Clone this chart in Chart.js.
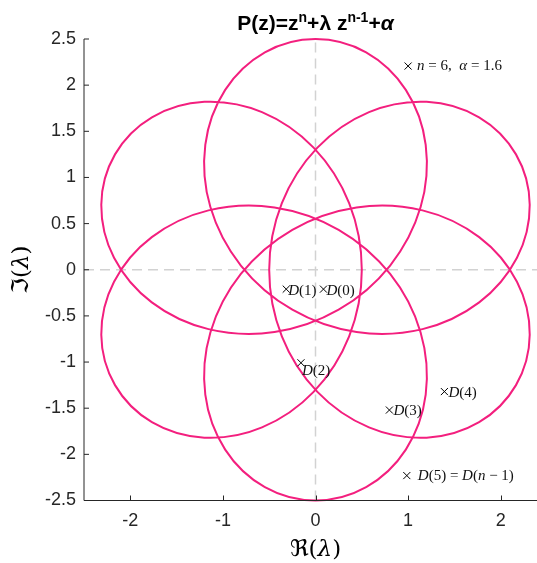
<!DOCTYPE html>
<html>
<head>
<meta charset="utf-8">
<script src="https://cdn.jsdelivr.net/npm/chart.js@4.4.1/dist/chart.umd.min.js"></script>
<style>
  html, body { margin: 0; padding: 0; background: #fff; overflow: hidden; }
  canvas { display: block; }
</style>
</head>
<body>
<canvas id="locus" width="560" height="563"></canvas>
<script>
// ── boundary curve in the λ-plane, traced as one closed path (Re, Im) ──
const curveRe = [
  -0.8061, -1.1352, -1.1901, -0.9754, -0.5468, 0, 0.5468, 0.9754, 1.1901, 1.1352, 0.8061, 0.25,
  -0.4428, -1.1558, -1.7678, -2.1756, -2.3134, -2.1651, -1.7667, -1.2002, -0.5777, -0.0206, 0.3633, 0.5,
  0.3633, -0.0206, -0.5777, -1.2002, -1.7667, -2.1651, -2.3134, -2.1756, -1.7678, -1.1558, -0.4428, 0.25,
  0.8061, 1.1352, 1.1901, 0.9754, 0.5468, 0, -0.5468, -0.9754, -1.1901, -1.1352, -0.8061, -0.25,
  0.4428, 1.1558, 1.7678, 2.1756, 2.3134, 2.1651, 1.7667, 1.2002, 0.5777, 0.0206, -0.3633, -0.5,
  -0.3633, 0.0206, 0.5777, 1.2002, 1.7667, 2.1651, 2.3134, 2.1756, 1.7678, 1.1558, 0.4428, -0.25,
];
const curveIm = [
  0.046, 0.6792, 1.3542, 1.949, 2.3557, 2.5, 2.3557, 1.949, 1.3542, 0.6792, 0.046, -0.433,
  -0.6751, -0.6435, -0.3536, 0.1298, 0.7043, 1.25, 1.6513, 1.8192, 1.7077, 1.3227, 0.7211, 0,
  -0.7211, -1.3227, -1.7077, -1.8192, -1.6513, -1.25, -0.7043, -0.1298, 0.3536, 0.6435, 0.6751, 0.433,
  -0.046, -0.6792, -1.3542, -1.949, -2.3557, -2.5, -2.3557, -1.949, -1.3542, -0.6792, -0.046, 0.433,
  0.6751, 0.6435, 0.3536, -0.1298, -0.7043, -1.25, -1.6513, -1.8192, -1.7077, -1.3227, -0.7211, 0,
  0.7211, 1.3227, 1.7077, 1.8192, 1.6513, 1.25, 0.7043, 0.1298, -0.3536, -0.6435, -0.6751, -0.433,
];

// ── marked points and their labels ──
const markRe = [1.0, 0.086, -0.316, -0.157, 0.798, 1.392, 0.986];
const markIm = [2.207, -0.21, -0.21, -1.008, -1.52, -1.32, -2.23];
const markText = ['n = 6,  α = 1.6', 'D(0)', 'D(1)', 'D(2)', 'D(3)', 'D(4)', 'D(5) = D(n − 1)'];

const xTicks = [-2, -1, 0, 1, 2];
const yTicks = [-2.5, -2, -1.5, -1, -0.5, 0, 0.5, 1, 1.5, 2, 2.5];

// label nudges in px (dx, dy) relative to the marker
const labelNudge = [[9, 0], [3, 2], [2, 2], [1, 8], [4, 1], [4, 1], [11, 0]];

const CURVE = '#f31f7e';
const INK = '#262626';
const SANS = "'Liberation Sans', Arial, sans-serif";
const SERIF = "'Liberation Serif', 'DejaVu Serif', serif";
const MATH = "'DejaVu Serif', 'DejaVu Sans', serif";

// closed path: pad with neighbours on both ends so the spline tangents wrap,
// then hide the two padding segments
const n = curveRe.length;
const loopIdx = [n - 1, ...curveRe.map((_, i) => i), 0, 1];
const curvePts = loopIdx.map(i => ({ x: curveRe[i], y: curveIm[i] }));

function runsOf(str) {
  // letters in math italic, digits and symbols upright
  const out = [];
  for (const ch of str) {
    const it = /[A-Za-zα]/.test(ch);
    const last = out[out.length - 1];
    if (last && last.it === it) last.t += ch; else out.push({ t: ch, it });
  }
  return out;
}

function drawRuns(ctx, runs, x, y) {
  // runs: {t, font, dy}; draws left to right from x on baseline y
  runs.forEach(r => {
    ctx.font = r.font;
    ctx.fillText(r.t, x, y + (r.dy || 0));
    x += ctx.measureText(r.t).width;
  });
  return x;
}

function runsWidth(ctx, runs) {
  return runs.reduce((w, r) => { ctx.font = r.font; return w + ctx.measureText(r.t).width; }, 0);
}

const decorations = {
  id: 'decorations',
  afterDatasetsDraw(chart) {
    const { ctx, chartArea: a, scales: { x, y } } = chart;
    ctx.save();

    // axes with inward ticks
    ctx.strokeStyle = INK;
    ctx.lineWidth = 1;
    ctx.beginPath();
    ctx.moveTo(a.left, a.top);
    ctx.lineTo(a.left, a.bottom);
    yTicks.forEach(v => {
      const py = y.getPixelForValue(v);
      ctx.moveTo(a.left, py);
      ctx.lineTo(a.left + 5, py);
    });
    ctx.moveTo(a.left, a.bottom);
    ctx.lineTo(a.right, a.bottom);
    xTicks.forEach(v => {
      const px = Math.round(x.getPixelForValue(v)) + 0.5;
      ctx.moveTo(px, a.bottom);
      ctx.lineTo(px, a.bottom - 5);
    });
    ctx.stroke();

    // point labels
    ctx.fillStyle = '#111';
    ctx.textBaseline = 'middle';
    ctx.textAlign = 'left';
    markText.forEach((s, i) => {
      const px = x.getPixelForValue(markRe[i]) + labelNudge[i][0];
      const py = y.getPixelForValue(markIm[i]) + labelNudge[i][1];
      const runs = runsOf(s).map(r => ({ t: r.t, font: (r.it ? 'italic ' : '') + '15px ' + SERIF }));
      drawRuns(ctx, runs, px, py);
    });

    // title
    ctx.fillStyle = '#000';
    ctx.textBaseline = 'alphabetic';
    const big = 'bold 21px ' + SANS, sup = 'bold 14px ' + SANS;
    const title = [
      { t: 'P(z)=z', font: big },
      { t: 'n', font: sup, dy: -8 },
      { t: '+λ z', font: big },
      { t: 'n-1', font: sup, dy: -8 },
      { t: '+', font: big },
      { t: 'α', font: 'bold italic 21px ' + SANS },
    ];
    const cx = (a.left + a.right) / 2;
    drawRuns(ctx, title, cx - runsWidth(ctx, title) / 2, 30);

    // axis titles
    const axisRuns = sym => [
      { t: sym, font: '23px ' + MATH },
      { t: '(', font: '23px ' + MATH },
      { t: 'λ', font: 'italic 23px ' + MATH },
      { t: ')', font: '23px ' + MATH },
    ];
    const xr = axisRuns('ℜ');
    drawRuns(ctx, xr, cx - runsWidth(ctx, xr) / 2, 556);
    const yr = axisRuns('ℑ');
    ctx.translate(28, (a.top + a.bottom) / 2);
    ctx.rotate(-Math.PI / 2);
    drawRuns(ctx, yr, -runsWidth(ctx, yr) / 2, 0);
    ctx.restore();
  }
};

const tickFont = { family: SANS, size: 18 };

new Chart(document.getElementById('locus'), {
  type: 'scatter',
  data: {
    datasets: [
      {
        // marked points
        data: markRe.map((v, i) => ({ x: v, y: markIm[i] })),
        pointStyle: 'crossRot',
        pointRadius: 5,
        borderColor: '#000',
        borderWidth: 1,
        showLine: false,
        order: 0,
        clip: false,
      },
      {
        data: curvePts,
        showLine: true,
        borderColor: CURVE,
        borderWidth: 2,
        pointRadius: 0,
        tension: 0.35,
        order: 1,
        clip: false,
        segment: {
          borderColor: c => (c.p0DataIndex === 0 || c.p0DataIndex === n + 1) ? 'rgba(0,0,0,0)' : CURVE,
        },
      },
      {
        // dashed reference axes through the origin
        data: [{ x: -2.5, y: 0 }, { x: 2.5, y: 0 }],
        showLine: true, borderColor: '#d2d2d2', borderWidth: 1.5, borderDash: [10, 6],
        pointRadius: 0, order: 2,
      },
      {
        data: [{ x: 0, y: -2.5 }, { x: 0, y: 2.5 }],
        showLine: true, borderColor: '#d2d2d2', borderWidth: 1.5, borderDash: [10, 6],
        pointRadius: 0, order: 2,
      },
    ],
  },
  options: {
    responsive: false,
    animation: false,
    events: [],
    layout: { padding: { top: 39, right: 13, left: 0, bottom: 0 } },
    elements: { line: { capBezierPoints: false } },
    plugins: { legend: { display: false }, tooltip: { enabled: false }, title: { display: false } },
    scales: {
      x: {
        type: 'linear', min: -2.5, max: 2.5,
        grid: { display: false, drawTicks: false },
        border: { display: false },
        afterBuildTicks: s => { s.ticks = xTicks.map(v => ({ value: v })); },
        afterFit: s => { s.height = 62.5; },
        ticks: { color: INK, font: tickFont, padding: 10, maxRotation: 0, callback: v => String(v) },
      },
      y: {
        type: 'linear', min: -2.5, max: 2.5,
        grid: { display: false, drawTicks: false },
        border: { display: false },
        afterBuildTicks: s => { s.ticks = yTicks.map(v => ({ value: v })); },
        afterFit: s => { s.width = 84; },
        ticks: { color: INK, font: tickFont, padding: 8, callback: v => String(v) },
      },
    },
  },
  plugins: [decorations],
});
</script>
</body>
</html>
